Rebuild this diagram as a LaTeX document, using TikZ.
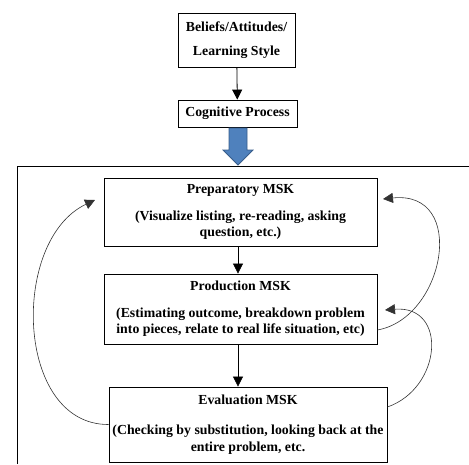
\documentclass[tikz,border=0pt]{standalone}
\usepackage{fontspec}
\setmainfont{Liberation Serif}
\usetikzlibrary{arrows.meta}
\definecolor{arrowblue}{RGB}{79,129,189}
\definecolor{arrowedge}{RGB}{56,93,138}

\begin{document}
\begin{tikzpicture}[x=1pt,y=-1pt,
   box/.style={draw=black,thick,fill=white,inner sep=0pt,align=center,
               font=\fontsize{13.8}{16.5}\selectfont\bfseries},
   tip/.style={-{Triangle[length=10pt,width=10pt]}},
   loop/.style={tip,semithick,draw=black!80}]
   \useasboundingbox (0,0) rectangle (469,464);
   % outer frame
   \draw[thick] (17,464) -- (17,166) -- (470,166);
   % top boxes
   \node[box,minimum width=117,minimum height=54] (belief) at (236.5,40)
        {Beliefs/Attitudes/\\[8pt]Learning Style};
   \node[box,minimum width=119,minimum height=27] (cog) at (237.5,113.5)
        {Cognitive Process};
   \draw[tip,thick] (belief) -- (cog);
   % block arrow
   \filldraw[draw=arrowedge,fill=arrowblue,thick]
      (229,128) -- (247,128) -- (247,150) -- (253,150) -- (238,165)
      -- (223,150) -- (229,150) -- cycle;
   % MSK boxes
   \node[box,minimum width=273,minimum height=68] (prep) at (240.5,212)
        {Preparatory MSK\\[10pt](Visualize listing, re-reading, asking\\question, etc.)};
   \node[box,minimum width=273,minimum height=70] (prod) at (240.5,309)
        {Production MSK\\[10pt](Estimating outcome, breakdown problem\\into pieces, relate to real life situation, etc)};
   \node[box,minimum width=278,minimum height=75] (eval) at (248,424.5)
        {\raisebox{4pt}{Evaluation MSK}\\[10pt](Checking by substitution, looking back at the\\entire problem, etc.};
   \draw[tip,semithick] (prep.south -| 238,0) -- (prod.north -| 238,0);
   \draw[tip,semithick] (prod.south -| 238,0) -- (eval.north -| 238,0);
   % feedback loops
   \coordinate (prepL) at (95,200);
   \coordinate (prepR) at (383,199);
   \coordinate (prodR) at (385,310);
   \draw[loop] (eval.west) .. controls (15,425) and (10,240) .. (prepL);
   \draw[loop] (prod.east |- 0,330) .. controls (445,318) and (468,190) .. (prepR);
   \draw[loop] (eval.east |- 0,407) .. controls (442,388) and (448,305) .. (prodR);
\end{tikzpicture}
\end{document}
